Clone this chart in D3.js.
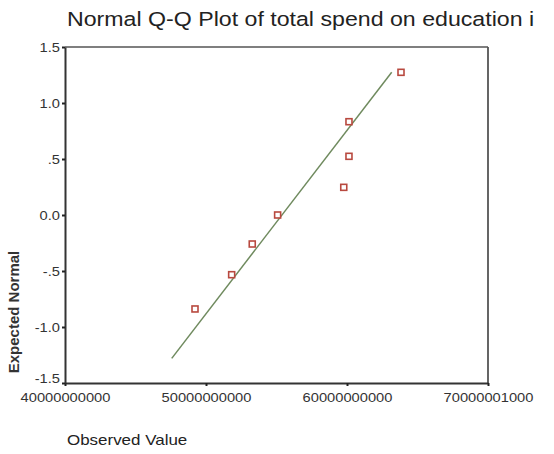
<!DOCTYPE html>
<html><head><meta charset="utf-8">
<script src="https://cdn.jsdelivr.net/npm/d3@7"></script>
<style>body{margin:0;background:#fff}svg{display:block}</style>
</head><body>
<script>
const observed = [49.22e9, 51.82e9, 53.28e9, 55.08e9, 59.77e9, 60.14e9, 60.14e9, 63.83e9];
const expected = [-0.839, -0.533, -0.259, 0.0, 0.247, 0.524, 0.833, 1.274];
const lineX = [47.57e9, 63.17e9];
const lineY = [-1.28, 1.274];
const xTicks = [40000000000, 50000000000, 60000000000, 70000001000];
const xTickLabels = ["40000000000", "50000000000", "60000000000", "70000001000"];
const yTicks = [-1.5, -1.0, -0.5, 0.0, 0.5, 1.0, 1.5];
const yTickLabels = ["-1.5", "-1.0", "-.5", "0.0", ".5", "1.0", "1.5"];
const title = "Normal Q-Q Plot of total spend on education i";

const W = 554, H = 454;
const L = 65, R = 488, T = 47, B = 383;
const SX = 1.13;
const svg = d3.select("body").append("svg").attr("width", W).attr("height", H);
const x = d3.scaleLinear().domain([40000000000, 70000001000]).range([L, R]);
const y = d3.scaleLinear().domain([-1.5, 1.5]).range([B, T]);
const font = "Liberation Sans, Arial, sans-serif";

svg.append("text").attr("transform", `translate(67,26) scale(${SX},1)`).attr("font-family", font)
  .attr("font-size", 20.5).attr("fill", "#222").text(title);

// frame top/right
svg.append("line").attr("x1", L).attr("x2", R).attr("y1", T).attr("y2", T)
  .attr("stroke", "#555").attr("stroke-width", 1.5);
svg.append("line").attr("x1", R).attr("x2", R).attr("y1", T).attr("y2", B)
  .attr("stroke", "#555").attr("stroke-width", 1.8);

const xAxis = svg.append("g").attr("transform", `translate(0,${B})`)
  .call(d3.axisBottom(x).tickValues(xTicks).tickFormat((d, i) => xTickLabels[i]).tickSize(3).tickSizeOuter(0));
const yAxis = svg.append("g").attr("transform", `translate(${L},0)`)
  .call(d3.axisLeft(y).tickValues(yTicks).tickFormat((d, i) => yTickLabels[i]).tickSize(3).tickSizeOuter(0));
[xAxis, yAxis].forEach(a => {
  a.select(".domain").attr("stroke", "#333").attr("stroke-width", 2);
  a.selectAll(".tick line").attr("stroke", "#222").attr("stroke-width", 2);
  a.selectAll(".tick text").attr("font-family", font).attr("font-size", 13).attr("fill", "#333");
});
xAxis.selectAll(".tick text").attr("y", 0).attr("dy", 0)
  .attr("transform", `translate(0,18.5) scale(${SX},1)`);
yAxis.selectAll(".tick text").attr("x", 0).attr("dy", "0.32em")
  .attr("transform", (d, i) => `translate(-5,${i === 0 ? -5 : 0}) scale(${SX},1)`);

svg.append("line")
  .attr("x1", x(lineX[0])).attr("y1", y(lineY[0]))
  .attr("x2", x(lineX[1])).attr("y2", y(lineY[1]))
  .attr("stroke", "#6f8a5e").attr("stroke-width", 1.5);

svg.selectAll("rect.pt").data(observed).enter().append("rect").attr("class", "pt")
  .attr("x", (d) => x(d) - 3).attr("y", (d, i) => y(expected[i]) - 3)
  .attr("width", 6).attr("height", 6)
  .attr("fill", "#fff").attr("stroke", "#b8493f").attr("stroke-width", 1.6);

svg.append("text").attr("transform", "translate(19,312) rotate(-90)")
  .attr("text-anchor", "middle").attr("font-family", font).attr("font-weight", "bold")
  .attr("font-size", 15).attr("fill", "#333").text("Expected Normal");

svg.append("text").attr("transform", `translate(67,445) scale(${SX},1)`).attr("font-family", font)
  .attr("font-size", 15).attr("fill", "#222").text("Observed Value");
</script>
</body></html>
